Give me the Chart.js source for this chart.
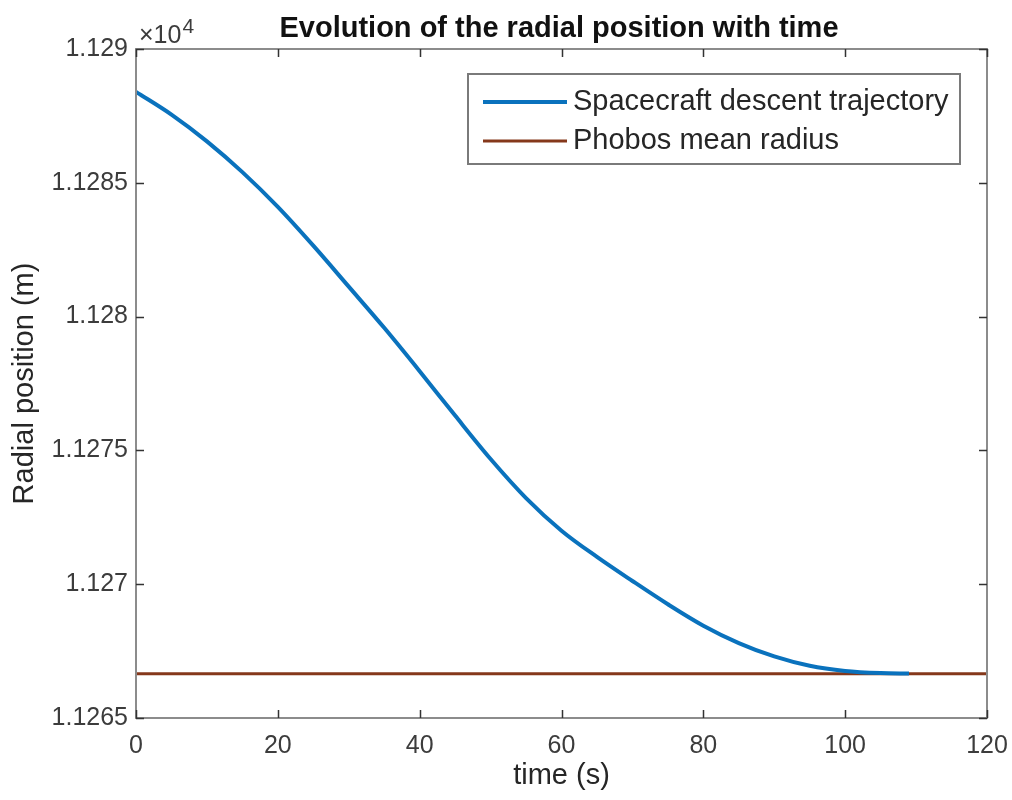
<!DOCTYPE html>
<html>
<head>
<meta charset="utf-8">
<script src="https://cdn.jsdelivr.net/npm/chart.js@4.4.1/dist/chart.umd.min.js"></script>
<style>
  body { margin: 0; background: #fff; }
</style>
</head>
<body>
<canvas id="radialChart" width="1012" height="800"></canvas>
<script>
// values
const times = [0, 5, 10, 15, 20, 25, 30, 35, 40, 45, 50, 55, 60, 65, 70, 75, 80, 85, 90, 95, 100, 105, 109];
const radialPosition = [
  11288.40, 11287.55, 11286.55, 11285.40, 11284.10, 11282.65, 11281.12, 11279.58,
  11277.96, 11276.30, 11274.68, 11273.22, 11272.00, 11271.02, 11270.12, 11269.25,
  11268.45, 11267.80, 11267.30, 11266.95, 11266.76, 11266.68, 11266.66
];
const phobosTimes = [0, 120];
const phobosRadius = [11266.65, 11266.65];
const xTicks = [0, 20, 40, 60, 80, 100, 120];
const yTicks = [11265, 11270, 11275, 11280, 11285, 11290];
const seriesLabels = ["Spacecraft descent trajectory", "Phobos mean radius"];

const blue = "#0a72bd";
const brown = "#85381b";
const axisGrey = "#8c8c8c";
const labelGrey = "#3c3c3c";
const fontFamily = "'Liberation Sans', Arial, Helvetica, sans-serif";

const toPoints = (xs, ys) => xs.map((x, i) => ({ x: x, y: ys[i] }));

// MATLAB-like frame: box, inner ticks, title, exponent, legend
const matlabFrame = {
  id: "matlabFrame",
  afterDraw(chart) {
    const ctx = chart.ctx;
    const area = chart.chartArea;
    const xs = chart.scales.x;
    const ys = chart.scales.y;
    const tl = 8;
    ctx.save();
    ctx.strokeStyle = axisGrey;
    ctx.lineWidth = 2;
    ctx.strokeRect(area.left, area.top, area.right - area.left, area.bottom - area.top);

    ctx.lineWidth = 1.5;
    ctx.strokeStyle = "#333";
    ctx.beginPath();
    xTicks.forEach((t) => {
      const px = Math.round(xs.getPixelForValue(t)) + 0.5;
      ctx.moveTo(px, area.bottom); ctx.lineTo(px, area.bottom - tl);
      ctx.moveTo(px, area.top); ctx.lineTo(px, area.top + tl);
    });
    yTicks.forEach((v) => {
      const py = Math.round(ys.getPixelForValue(v)) + 0.5;
      ctx.moveTo(area.left, py); ctx.lineTo(area.left + tl, py);
      ctx.moveTo(area.right, py); ctx.lineTo(area.right - tl, py);
    });
    ctx.stroke();

    // title
    ctx.fillStyle = "#111";
    ctx.font = "bold 29px " + fontFamily;
    ctx.textAlign = "center";
    ctx.textBaseline = "alphabetic";
    ctx.fillText("Evolution of the radial position with time", 559, 37);

    // exponent label
    ctx.fillStyle = labelGrey;
    ctx.font = "25px " + fontFamily;
    ctx.textAlign = "left";
    ctx.fillText("\u00d710", 139, 43);
    const w = ctx.measureText("\u00d710").width;
    ctx.font = "21px " + fontFamily;
    ctx.fillText("4", 139 + w + 1, 33);

    // legend
    const lx = 468, ly = 74, lw = 492, lh = 90;
    ctx.fillStyle = "#fff";
    ctx.fillRect(lx, ly, lw, lh);
    ctx.strokeStyle = "#7a7a7a";
    ctx.lineWidth = 2;
    ctx.strokeRect(lx, ly, lw, lh);
    const rows = [102, 141];
    chart.data.datasets.forEach((ds, i) => {
      ctx.strokeStyle = ds.borderColor;
      ctx.lineWidth = ds.borderWidth;
      ctx.beginPath();
      ctx.moveTo(483, rows[i]);
      ctx.lineTo(567, rows[i]);
      ctx.stroke();
      ctx.fillStyle = "#262626";
      ctx.font = "29px " + fontFamily;
      ctx.textBaseline = "middle";
      ctx.fillText(ds.label, 573, rows[i]);
    });
    ctx.restore();
  }
};

new Chart(document.getElementById("radialChart"), {
  type: "scatter",
  data: {
    datasets: [
      {
        label: seriesLabels[0],
        data: toPoints(times, radialPosition),
        showLine: true,
        borderColor: blue,
        borderWidth: 4,
        pointRadius: 0,
        cubicInterpolationMode: "monotone",
        fill: false
      },
      {
        label: seriesLabels[1],
        data: toPoints(phobosTimes, phobosRadius),
        showLine: true,
        borderColor: brown,
        borderWidth: 3,
        pointRadius: 0,
        fill: false
      }
    ]
  },
  options: {
    responsive: false,
    animation: false,
    layout: { padding: { top: 49, right: 25, left: 0, bottom: 0 } },
    plugins: {
      legend: { display: false },
      title: { display: false },
      tooltip: { enabled: false }
    },
    scales: {
      x: {
        type: "linear",
        min: 0,
        max: 120,
        afterBuildTicks: (scale) => { scale.ticks = xTicks.map((v) => ({ value: v })); },
        afterFit: (scale) => {
          scale.height = 82;
          scale.paddingLeft = 0;
          scale.paddingRight = 0;
        },
        grid: { display: false, drawTicks: false },
        border: { display: false },
        ticks: {
          color: labelGrey,
          padding: 13,
          maxRotation: 0,
          font: { family: fontFamily, size: 25 }
        },
        title: {
          display: true,
          text: "time (s)",
          color: "#262626",
          padding: { top: 0, bottom: 7 },
          font: { family: fontFamily, size: 29 }
        }
      },
      y: {
        type: "linear",
        min: 11265,
        max: 11290,
        afterBuildTicks: (scale) => { scale.ticks = yTicks.map((v) => ({ value: v })); },
        afterFit: (scale) => { scale.width = 136; },
        grid: { display: false, drawTicks: false },
        border: { display: false },
        ticks: {
          color: labelGrey,
          padding: 8,
          font: { family: fontFamily, size: 25 },
          callback: (v) => parseFloat((v / 1e4).toFixed(5)).toString()
        },
        title: {
          display: true,
          text: "Radial position (m)",
          color: "#262626",
          padding: { top: 8, bottom: 0 },
          font: { family: fontFamily, size: 29 }
        }
      }
    }
  },
  plugins: [matlabFrame]
});
</script>
</body>
</html>
